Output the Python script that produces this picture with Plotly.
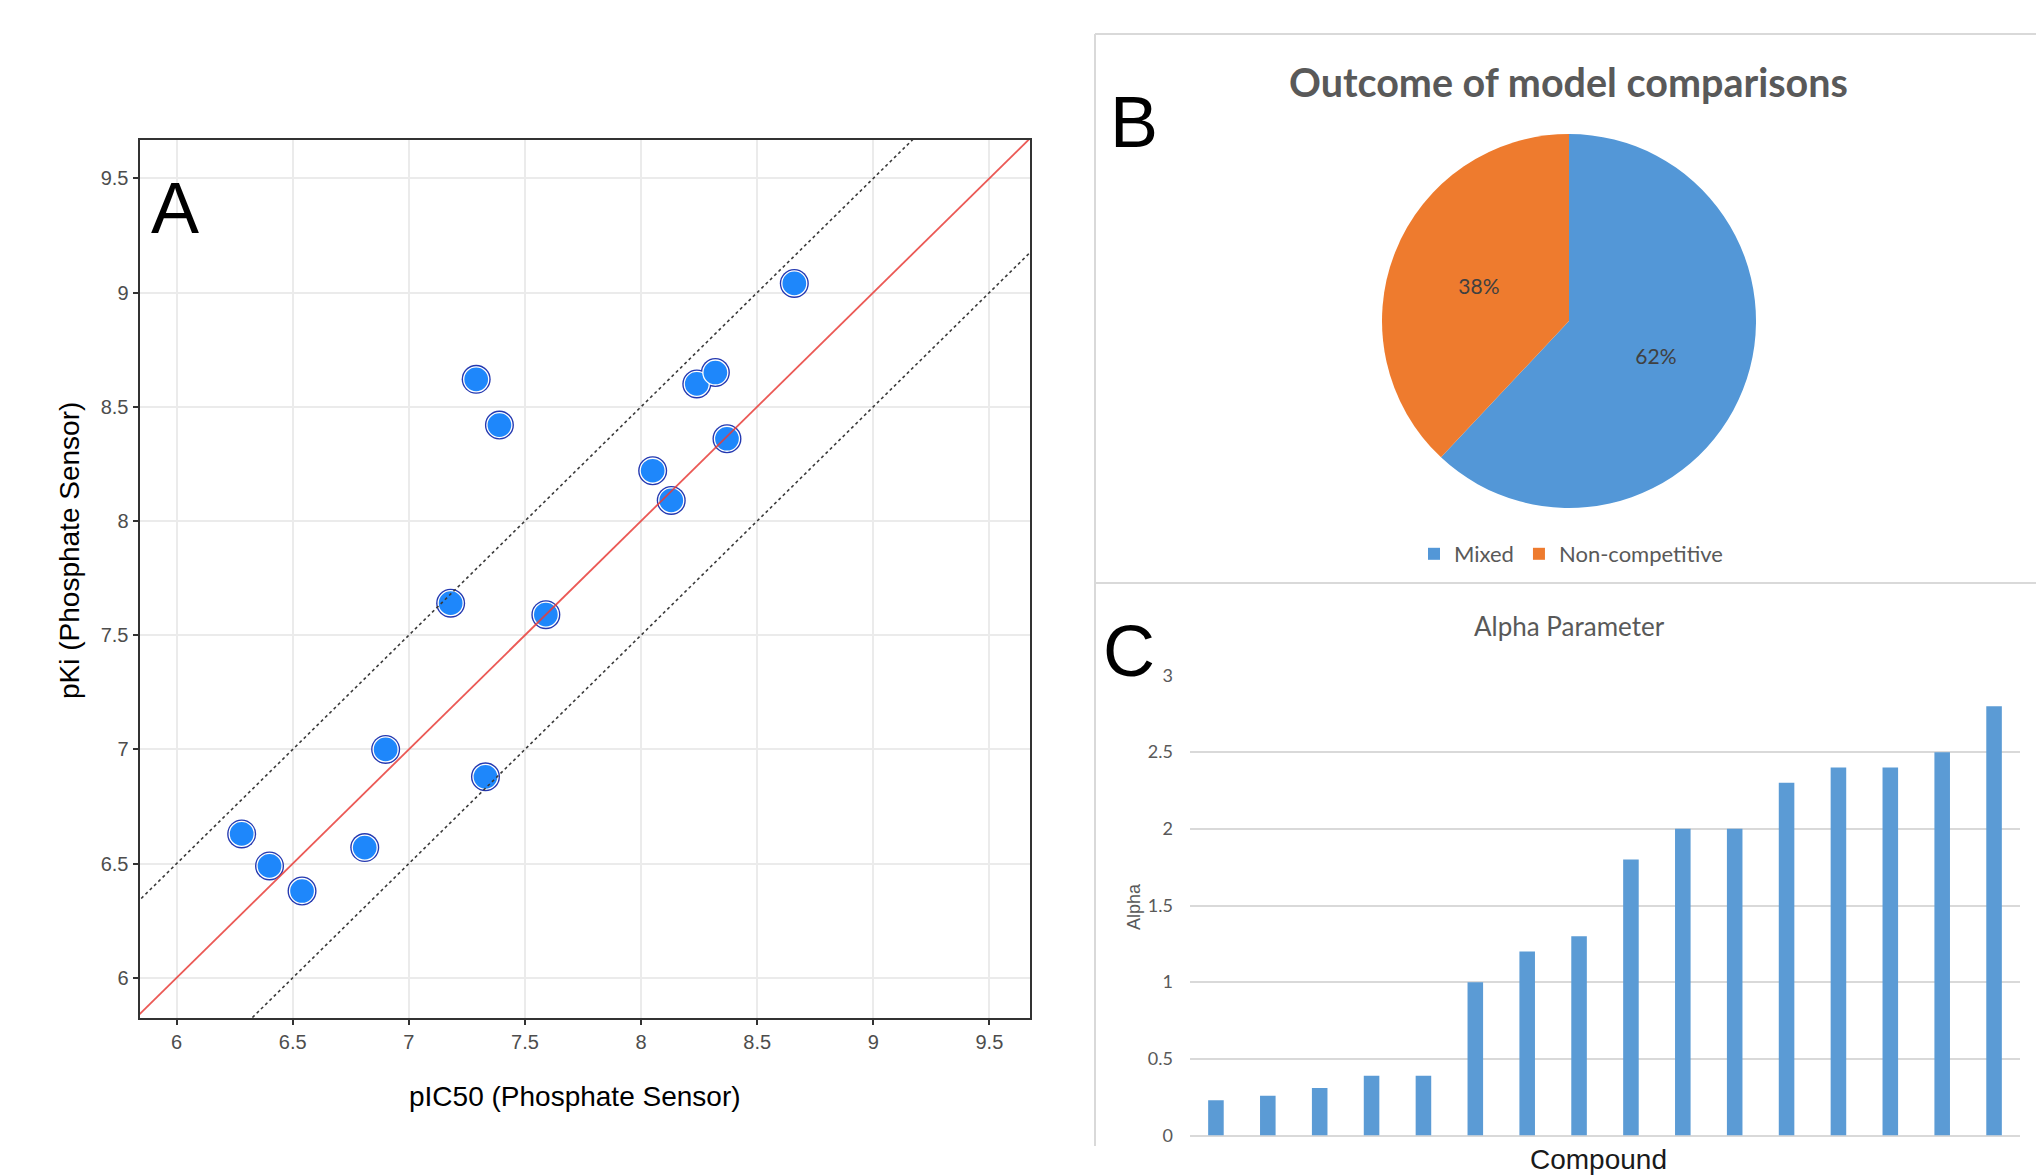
import plotly.graph_objects as go

# ---------------- data ----------------
# Panel A: pIC50 vs pKi (phosphate sensor)
PIC50 = [8.66, 7.29, 7.39, 8.24, 8.32, 8.37, 8.05, 8.13, 7.18, 7.59, 6.90, 7.33, 6.28, 6.40, 6.54, 6.81]
PKI   = [9.04, 8.62, 8.42, 8.60, 8.65, 8.36, 8.22, 8.09, 7.64, 7.59, 7.00, 6.88, 6.63, 6.49, 6.38, 6.57]
REF_LINE_X = [5.0, 10.5]          # extent of reference lines (clipped by axes)
REF_OFFSETS = [0.5, -0.5]         # dotted bands around identity line
AXIS_TICKS = [6, 6.5, 7, 7.5, 8, 8.5, 9, 9.5]

# Panel B: model comparison outcome
PIE_LABELS = ["Mixed", "Non-competitive"]
PIE_VALUES = [62, 38]

# Panel C: alpha parameter per compound
COMPOUNDS = ["c1", "c2", "c3", "c4", "c5", "c6", "c7", "c8",
             "c9", "c10", "c11", "c12", "c13", "c14", "c15", "c16"]
ALPHA = [0.23, 0.26, 0.31, 0.39, 0.39, 1.0, 1.2, 1.3, 1.8, 2.0, 2.0, 2.3, 2.4, 2.4, 2.5, 2.8]

W, H = 2036, 1175


def px(x):
    return x / W


def py(y):
    return 1 - y / H


fig = go.Figure()

# ---------------- Panel A ----------------
fig.add_trace(go.Scatter(
    x=PIC50, y=PKI, mode="markers", xaxis="x", yaxis="y", showlegend=False,
    marker=dict(size=29, color="#2338b0", line=dict(width=0)), hoverinfo="skip"))
fig.add_trace(go.Scatter(
    x=PIC50, y=PKI, mode="markers", xaxis="x", yaxis="y", showlegend=False,
    marker=dict(size=25, color="#1e87fb", line=dict(width=1.3, color="white"))))
# identity line
fig.add_trace(go.Scatter(
    x=REF_LINE_X, y=REF_LINE_X, mode="lines", xaxis="x", yaxis="y", showlegend=False,
    line=dict(color="rgba(232,60,55,0.85)", width=1.8), hoverinfo="skip"))
for off in REF_OFFSETS:
    fig.add_trace(go.Scatter(
        x=REF_LINE_X, y=[v + off for v in REF_LINE_X], mode="lines", xaxis="x", yaxis="y",
        showlegend=False, line=dict(color="#3a3a3a", width=1.6, dash="dot"), hoverinfo="skip"))

# ---------------- Panel B ----------------
fig.add_trace(go.Pie(
    labels=PIE_LABELS, values=PIE_VALUES, sort=False, direction="clockwise", rotation=0,
    marker=dict(colors=["#5397d7", "#ee7b2e"], line=dict(width=0)),
    textinfo="percent", texttemplate="%{percent:.0%}", textposition="inside",
    insidetextorientation="horizontal",
    textfont=dict(family="Lato", size=21, color="#404040"),
    domain=dict(x=[px(1569 - 187), px(1569 + 187)], y=[py(321 + 187), py(321 - 187)]),
    showlegend=True))

# ---------------- Panel C ----------------
fig.add_trace(go.Bar(
    x=COMPOUNDS, y=ALPHA, xaxis="x2", yaxis="y2", showlegend=False,
    marker=dict(color="#5b9bd5", line=dict(width=0))))

axA_common = dict(
    showline=True, linecolor="#333333", linewidth=2, mirror=True,
    ticks="outside", ticklen=5, tickwidth=2, tickcolor="#333333",
    showgrid=True, gridcolor="#ebebeb", gridwidth=1.6, zeroline=False,
    tickvals=AXIS_TICKS, automargin=False,
    tickfont=dict(family="Liberation Sans", size=20, color="#4d4d4d"),
)

fig.update_layout(
    width=W, height=H,
    margin=dict(l=0, r=0, t=0, b=0, pad=0, autoexpand=False),
    paper_bgcolor="white", plot_bgcolor="white",
    bargap=0.70,
    xaxis=dict(domain=[px(139.5), px(1030)], range=[5.84, 9.675], anchor="y", **axA_common),
    yaxis=dict(domain=[py(1018), py(140)], range=[5.824, 9.668], anchor="x", **axA_common),
    xaxis2=dict(domain=[px(1190), px(2020)], anchor="y2", showticklabels=False, automargin=False,
                showgrid=False, zeroline=False, showline=False, ticks=""),
    yaxis2=dict(domain=[py(1135.5), py(675.5)], range=[0, 3], anchor="x2", dtick=0.5,
                showgrid=True, gridcolor="#d9d9d9", gridwidth=1.6, zeroline=True,
                zerolinecolor="#d9d9d9", zerolinewidth=1.6, showline=False, ticks="",
                ticklabelstandoff=16, automargin=False,
                tickfont=dict(family="Lato", size=18, color="#595959")),
    legend=dict(orientation="h", x=px(1571), xanchor="center", y=py(554), yanchor="middle",
                font=dict(family="Lato", size=22, color="#595959"),
                bgcolor="rgba(0,0,0,0)", itemwidth=30),
    showlegend=True,
)

# Panel frames (B/C)
frame = dict(type="line", xref="paper", yref="paper", line=dict(color="#d9d9d9", width=2))
fig.add_shape(x0=px(1095), x1=px(2036), y0=py(34), y1=py(34), **frame)
fig.add_shape(x0=px(1095), x1=px(1095), y0=py(34), y1=py(1146), **frame)
fig.add_shape(x0=px(1095), x1=px(2036), y0=py(583), y1=py(583), **frame)

ann = []
# Panel letters
ann.append(dict(text="A", x=px(175), y=py(208), font=dict(family="Liberation Sans", size=72, color="black")))
ann.append(dict(text="B", x=px(1134), y=py(122), font=dict(family="Liberation Sans", size=72, color="black")))
ann.append(dict(text="C", x=px(1129), y=py(651), font=dict(family="Liberation Sans", size=72, color="black")))
# Panel A axis titles
ann.append(dict(text="pIC50 (Phosphate Sensor)", x=px(575), y=py(1096),
                font=dict(family="Liberation Sans", size=28, color="black")))
ann.append(dict(text="pKi (Phosphate Sensor)", x=px(70), y=py(551), textangle=-90,
                font=dict(family="Liberation Sans", size=28, color="black")))
# Panel B title
ann.append(dict(text="<b>Outcome of model comparisons</b>", x=px(1568), y=py(81),
                font=dict(family="Lato", size=39.5, color="#595959")))
# Panel C title and axis titles
ann.append(dict(text="Alpha Parameter", x=px(1569), y=py(626),
                font=dict(family="Lato", size=26, color="#595959")))
ann.append(dict(text="Alpha", x=px(1134), y=py(907), textangle=-90,
                font=dict(family="Liberation Sans", size=18, color="#595959")))
ann.append(dict(text="Compound", x=px(1598), y=py(1159),
                font=dict(family="Liberation Sans", size=28, color="#1a1a1a")))

for a in ann:
    a.update(xref="paper", yref="paper", showarrow=False, xanchor="center", yanchor="middle")
fig.update_layout(annotations=ann)

fig.write_html("out.html", config={"displayModeBar": False})

# remove the browser's default page margin so the figure sits at the top-left corner
with open("out.html", encoding="utf-8") as f:
    html = f.read()
html = html.replace("<body>", '<body style="margin:0;padding:0;overflow:hidden">', 1)
with open("out.html", "w", encoding="utf-8") as f:
    f.write(html)
